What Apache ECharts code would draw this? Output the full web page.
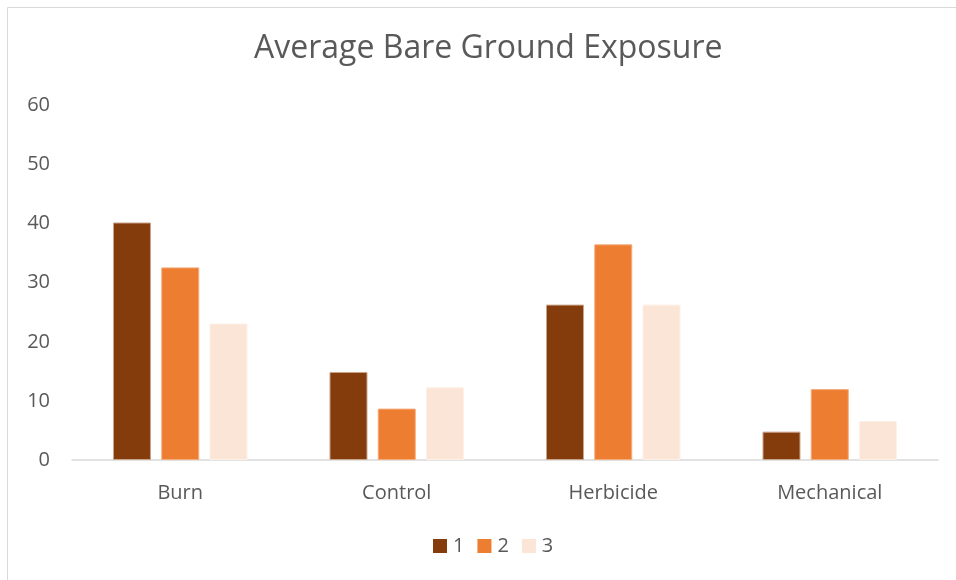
<!DOCTYPE html>
<html><head><meta charset="utf-8">
<script src="https://cdn.jsdelivr.net/npm/echarts@6/dist/echarts.min.js"></script>
<style>html,body{margin:0;padding:0;background:#fff}#c{width:956px;height:580px}</style>
</head><body><div id="c"></div>
<script>
const categories = ['Burn', 'Control', 'Herbicide', 'Mechanical'];
const seriesNames = ['1', '2', '3'];
const values1 = [40.2, 14.9, 26.3, 4.8];
const values2 = [32.6, 8.7, 36.5, 12.0];
const values3 = [23.1, 12.3, 26.3, 6.6];
const colors = ['#843C0C', '#ED7D31', '#FBE5D6'];
const borders = ['#c9a48c', '#f5ab7a', '#fdf0e7'];
const font = '"Open Sans", "Liberation Sans", sans-serif';
const chart = echarts.init(document.getElementById('c'), null, {renderer: 'canvas'});
const data = [values1, values2, values3];
chart.setOption({
  animation: false,
  backgroundColor: '#fff',
  graphic: [{type: 'rect', shape: {x: 7.5, y: 7.5, width: 1000, height: 1000}, style: {fill: 'none', stroke: '#d9d9d9', lineWidth: 1}, silent: true}],
  title: {text: 'Average Bare Ground Exposure', left: 254, top: 33, padding: 0, textStyle: {fontFamily: font, fontSize: 32, fontWeight: 'normal', color: '#595959'}},
  legend: {top: 536, left: 433, padding: 0, itemWidth: 14, itemHeight: 14, itemGap: 13, icon: 'rect',
    itemStyle: {borderWidth: 0},
    textStyle: {fontFamily: font, fontSize: 20, color: '#595959', padding: [0, 0, 0, 1]}, data: seriesNames},
  grid: {left: 72, right: 18, top: 105.5, bottom: 120},
  xAxis: {type: 'category', data: categories, axisLine: {lineStyle: {color: '#d9d9d9', width: 1.5}}, axisTick: {show: false},
    axisLabel: {fontFamily: font, fontSize: 20, color: '#595959', margin: 23}},
  yAxis: {type: 'value', min: 0, max: 60, interval: 10, splitLine: {show: false}, axisLine: {show: false}, axisTick: {show: false},
    axisLabel: {fontFamily: font, fontSize: 20, color: '#595959', margin: 22}},
  series: seriesNames.map((n, i) => ({
    name: n, type: 'bar', data: data[i], barWidth: 38, barGap: '27%',
    itemStyle: {color: colors[i], borderColor: borders[i], borderWidth: 1}
  }))
});
</script></body></html>
